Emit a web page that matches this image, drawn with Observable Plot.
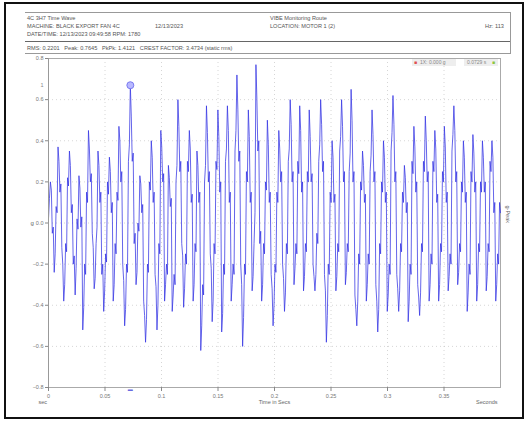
<!DOCTYPE html>
<html><head><meta charset="utf-8">
<script src="https://cdn.jsdelivr.net/npm/d3@7"></script>
<script src="https://cdn.jsdelivr.net/npm/@observablehq/plot@0.6"></script>
<style>
body{margin:0;background:#fff;font-family:"Liberation Sans",Arial,sans-serif;}
#wrap{position:relative;width:528px;height:422px;overflow:hidden;background:#fff}
#border{position:absolute;left:4px;top:2px;width:516px;height:413px;border:2px solid #111;}
#hdr{position:absolute;left:25px;top:12px;width:485px;height:40px;border-top:1px solid #999;border-right:1px solid #999;border-bottom:1px solid #999;font-size:5.6px;color:#555;line-height:8.5px}
#hdr .row{position:absolute;white-space:nowrap}
#sep{position:absolute;left:0;top:28px;width:485px;border-top:1.5px solid #666}
#chart{position:absolute;left:0;top:55px}
#legend{position:absolute;left:412px;top:59px;font-size:5px;color:#888;white-space:nowrap;background:#eee;height:7px;width:86px}
#legend span{position:absolute;top:0}
</style></head>
<body>
<div id="wrap">
  <div id="border"></div>
  <div id="hdr">
    <div class="row" style="left:2px;top:1px">4C 3H7 Time Wave</div>
    <div class="row" style="left:245px;top:1px">VIBE Monitoring Route</div>
    <div class="row" style="left:2px;top:9px">MACHINE: BLACK EXPORT FAN 4C</div>
    <div class="row" style="left:130px;top:9px">12/13/2023</div>
    <div class="row" style="left:245px;top:9px">LOCATION: MOTOR 1 (2)</div>
    <div class="row" style="left:460px;top:9px">Hz: 113</div>
    <div class="row" style="left:2px;top:17px">DATE/TIME: 12/13/2023 09:49:58 RPM: 1780</div>
    <div id="sep"></div>
    <div class="row" style="left:2px;top:31px">RMS: 0.2201 &nbsp; Peak: 0.7645 &nbsp; PkPk: 1.4121 &nbsp; CREST FACTOR: 3.4734 (static rms)</div>
  </div>
  <div id="chart"></div>
  <div id="legend">
    <span style="left:2px;color:#e05050">&#9632;</span>
    <span style="left:8px">1X: 0.000 g</span>
    <span style="left:44px;background:#fff;width:8px;height:7px"></span>
    <span style="left:55px">0.0729 s</span>
    <span style="left:80px;color:#8cc63f">&#9632;</span>
  </div>
</div>
<script>
const yTicks = [-0.8, -0.6, -0.4, -0.2, 0, 0.2, 0.4, 0.6, 0.8];
const xTicks = [0, 0.05, 0.1, 0.15, 0.2, 0.25, 0.3, 0.35];
const xTickLabels = ["0", "0.05", "0.1", "0.15", "0.2", "0.25", "0.3", "0.35"];
const duration = 0.4;
const amplitude = [
  0.02, 0.12, 0.2, 0.16, -0.05, -0.02, -0.24, -0.15, 0.08, 0.05, 0.37, 0.3, 0.15, 0.19, -0.12, -0.2, -0.38, -0.3, -0.1, -0.14, 0.22, 0.18, 0.35, 0.28, 0.05, 0.09, -0.2, -0.16, -0.35, -0.22, 0.02, -0.03,
  0.23, 0.17, -0.02, 0.03, -0.52, -0.41, -0.2, -0.25, 0.15, 0.1, 0.45, 0.36, 0.2, 0.24, -0.05, -0.12, -0.32, -0.27, -0.1, -0.02, 0.35, 0.28, 0.1, 0.15, -0.25, -0.2, -0.43, -0.33, -0.15, -0.19, 0.2, 0.14,
  0.32, 0.25, 0.05, 0.1, -0.38, -0.3, -0.1, -0.15, 0.15, 0.11, 0.47, 0.4, 0.2, 0.25, -0.2, -0.28, -0.5, -0.42, -0.2, -0.24, 0.3, 0.38, 0.67, 0.52, 0.3, 0.34, -0.1, -0.05, -0.3, -0.24, 0.0, -0.04,
  0.23, 0.19, 0.05, 0.09, -0.38, -0.45, -0.58, -0.47, -0.2, -0.24, 0.2, 0.16, 0.4, 0.32, 0.1, 0.15, -0.25, -0.31, -0.52, -0.4, -0.1, -0.15, 0.45, 0.37, 0.2, 0.24, -0.38, -0.3, -0.2, -0.25, 0.28, 0.22,
  0.08, 0.12, -0.43, -0.35, -0.25, -0.3, 0.2, 0.28, 0.6, 0.47, 0.25, 0.3, -0.1, -0.16, -0.41, -0.32, -0.15, -0.2, 0.3, 0.25, 0.45, 0.36, 0.1, 0.14, -0.38, -0.3, -0.1, -0.14, 0.35, 0.28, 0.1, 0.15,
  -0.62, -0.5, -0.3, -0.35, 0.2, 0.28, 0.57, 0.44, 0.2, 0.25, -0.15, -0.22, -0.48, -0.38, -0.1, -0.15, 0.3, 0.26, 0.55, 0.42, 0.15, 0.2, -0.53, -0.44, -0.2, -0.25, 0.3, 0.36, 0.57, 0.45, 0.1, 0.15,
  -0.38, -0.3, -0.2, -0.25, 0.35, 0.45, 0.72, 0.55, 0.3, 0.35, -0.2, -0.3, -0.6, -0.46, -0.2, -0.25, 0.25, 0.2, 0.55, 0.42, 0.1, 0.15, -0.33, -0.26, -0.1, 0.05, 0.77, 0.6, 0.35, 0.4, -0.1, -0.04,
  -0.38, -0.3, -0.1, -0.15, 0.2, 0.16, 0.5, 0.38, 0.1, 0.15, -0.25, -0.32, -0.5, -0.4, -0.2, -0.24, 0.15, 0.1, 0.45, 0.36, 0.2, 0.25, -0.2, -0.27, -0.43, -0.34, -0.1, -0.15, 0.3, 0.36, 0.6, 0.48,
  0.2, 0.25, -0.3, -0.22, -0.1, -0.15, 0.3, 0.24, 0.57, 0.45, 0.15, 0.2, -0.33, -0.26, -0.1, -0.14, 0.25, 0.2, 0.55, 0.42, 0.2, 0.24, -0.2, -0.26, -0.33, -0.25, -0.05, -0.1, 0.3, 0.38, 0.6, 0.48,
  0.25, 0.3, -0.25, -0.33, -0.58, -0.45, -0.2, -0.25, 0.15, 0.1, 0.4, 0.32, 0.1, 0.14, -0.33, -0.26, -0.1, -0.14, 0.35, 0.42, 0.6, 0.47, 0.2, 0.25, -0.3, -0.24, -0.1, -0.14, 0.25, 0.34, 0.65, 0.5,
  0.2, 0.25, -0.35, -0.42, -0.5, -0.38, -0.15, -0.2, 0.2, 0.16, 0.35, 0.28, 0.1, 0.14, -0.38, -0.3, -0.15, -0.2, 0.25, 0.33, 0.55, 0.43, 0.2, 0.25, -0.3, -0.38, -0.53, -0.42, -0.1, -0.15, 0.2, 0.15,
  0.4, 0.32, 0.1, 0.15, -0.43, -0.35, -0.2, -0.25, 0.35, 0.44, 0.62, 0.48, 0.2, 0.25, -0.25, -0.32, -0.43, -0.33, -0.1, -0.14, 0.15, 0.1, 0.28, 0.22, 0.05, 0.1, -0.48, -0.38, -0.2, -0.25, 0.3, 0.24,
  0.47, 0.37, 0.15, 0.2, -0.3, -0.36, -0.45, -0.34, -0.1, -0.14, 0.3, 0.25, 0.52, 0.4, 0.2, 0.25, -0.38, -0.3, -0.15, -0.2, 0.3, 0.25, 0.45, 0.36, 0.1, 0.14, -0.38, -0.3, -0.1, -0.14, 0.25, 0.2,
  0.47, 0.37, 0.1, 0.15, -0.33, -0.26, -0.15, -0.2, 0.35, 0.43, 0.57, 0.45, 0.2, 0.25, -0.3, -0.24, -0.1, -0.14, 0.2, 0.15, 0.4, 0.32, 0.1, 0.15, -0.43, -0.34, -0.2, -0.25, 0.25, 0.2, 0.43, 0.34,
  0.15, 0.2, -0.38, -0.3, -0.1, -0.14, 0.2, 0.15, 0.4, 0.32, 0.15, 0.2, -0.33, -0.26, -0.1, -0.14, 0.3, 0.25, 0.4, 0.32, 0.05, 0.1, -0.38, -0.3, -0.15, -0.2, 0.1, 0.05
];
const data = amplitude.map((g, i) => ({t: i * duration / (amplitude.length - 1), g}));
const early = data.filter(d => d.t < 0.1);
const cursor = early.reduce((a, b) => (b.g > a.g ? b : a));

const chart = Plot.plot({
  width: 528, height: 362,
  marginTop: 3, marginBottom: 30, marginLeft: 48, marginRight: 28,
  x: {domain: [0, 0.4]},
  y: {domain: [-0.8, 0.8]},
  style: {fontFamily: "'Liberation Sans', Arial, sans-serif", fontSize: "5.5px", color: "#777", background: "transparent"},
  marks: [
    Plot.gridY(yTicks, {stroke: "#bbb", strokeOpacity: 0.6, strokeDasharray: "1,3"}),
    Plot.gridX(xTicks, {stroke: "#bbb", strokeOpacity: 0.6, strokeDasharray: "1,3"}),
    Plot.frame({stroke: "#aaa"}),
    Plot.line(data, {x: "t", y: "g", stroke: "#3434e4", strokeWidth: 0.9, strokeOpacity: 0.85}),
    Plot.dot([cursor], {x: "t", y: "g", r: 3.5, stroke: "#7a7af0", fill: "#b8b8ff", strokeWidth: 1}),
    Plot.text([cursor], {x: "t", frameAnchor: "bottom", text: () => "\u25AC", dy: 3, fill: "#6a6ae0", fontSize: 5}),
    Plot.text([cursor], {y: "g", frameAnchor: "left", text: () => "1", dx: -8, fill: "#888"}),
    Plot.axisY({ticks: yTicks, tickSize: 3, tickPadding: 2, label: null, fill: "#777", stroke: "#888"}),
    Plot.ruleX([0], {stroke: "#999"}),
    Plot.axisX({ticks: xTicks, tickFormat: d => xTickLabels[xTicks.indexOf(d)], tickSize: 4, tickPadding: 3, label: null, fill: "#777", stroke: "#888"}),
    Plot.text(["g"], {frameAnchor: "left", dx: -18, fill: "#666", fontSize: 6}),
    Plot.text(["Time in Secs"], {x: 0.2, frameAnchor: "bottom", dy: 16, fill: "#666"}),
    Plot.text(["Seconds"], {frameAnchor: "bottom-right", dy: 16, dx: -3, textAnchor: "end", fill: "#666"}),
    Plot.text(["sec"], {frameAnchor: "bottom-left", dy: 16, dx: -10, fill: "#666"}),
    Plot.text(["g-Peak"], {frameAnchor: "right", dx: 7, rotate: 90, fill: "#666"})
  ]
});
document.getElementById("chart").appendChild(chart);
</script>
</body></html>
